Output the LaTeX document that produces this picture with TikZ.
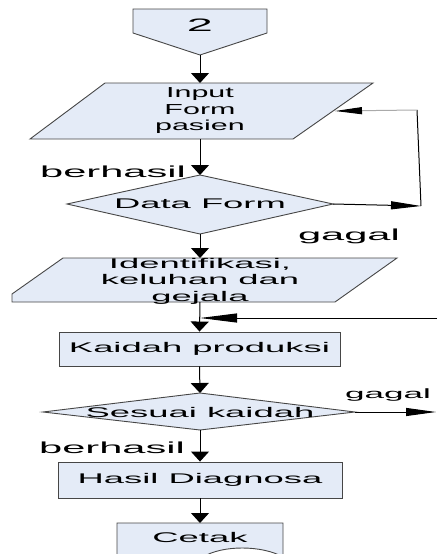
\documentclass[tikz,border=0pt]{standalone}
\usepackage{fontspec}
\newfontfamily\widesans[FakeStretch=2.6]{Liberation Sans}
\newfontfamily\midsans[FakeStretch=2.1]{Liberation Sans}
\usetikzlibrary{arrows.meta}
\definecolor{boxfill}{RGB}{228,235,247}
\definecolor{boxline}{RGB}{70,70,70}
\definecolor{grayline}{RGB}{170,170,170}
\tikzset{
  shapebox/.style={fill=boxfill, draw=boxline, line width=0.9pt},
  lbl/.style={font=\widesans\fontsize{14}{16.5}\selectfont, inner sep=0pt, align=center},
  biglbl/.style={font=\widesans\fontsize{16}{18}\selectfont, inner sep=0pt},
  downarr/.style={-{Triangle[width=18pt,length=10pt]}, line width=1pt},
  longarr/.style={-{Triangle[width=8pt,length=30pt]}, line width=1pt},
  grayarr/.style={-{Triangle[width=7pt,length=27pt,color=black]}, line width=1pt, draw=grayline},
  longerarr/.style={-{Triangle[width=9pt,length=37pt]}, line width=1pt},
}
\begin{document}
\begin{tikzpicture}[x=1pt,y=-1pt]
\useasboundingbox (0,0) rectangle (437,554);
\clip (0,0) rectangle (437,554);

% off-page connector
\draw[shapebox] (133,9) -- (267,9) -- (267,33) -- (200,55) -- (133,33) -- cycle;
\node[font=\widesans\fontsize{18}{20}\selectfont, inner sep=0pt] (n2) at (200,25) {2};
\coordinate (n2b) at (200,55);

% Input Form pasien
\draw[shapebox] (105,83) -- (373,83) -- (293,139) -- (30,139) -- cycle;
\node[font=\midsans\fontsize{14.5}{16.5}\selectfont, inner sep=0pt, align=center] (inp) at (200,111) {Input\\Form\\pasien};
\coordinate (inpT) at (200,83);
\coordinate (inpB) at (200,139);
\coordinate (inpR) at (335,111);

% Data Form
\draw[shapebox] (67,204) -- (200,175) -- (333,204) -- (200,234) -- cycle;
\node[lbl] (df) at (200,204) {Data Form};
\coordinate (dfT) at (200,175);
\coordinate (dfB) at (200,234);
\coordinate (dfR) at (333,204);
\coordinate (fb1) at (421,206);
\coordinate (fb2) at (417,110);

% Identifikasi
\draw[shapebox] (63,258) -- (397,258) -- (335,302) -- (12,302) -- (12,294) -- cycle;
\node[lbl] (idf) at (200,281) {Identifikasi,\\keluhan dan\\gejala};
\coordinate (idT) at (200,258);
\coordinate (idB) at (200,302);
\coordinate (fb3) at (437,318);
\coordinate (fb4) at (200,318);

% Kaidah produksi
\node[shapebox, lbl, minimum width=281pt, minimum height=34pt] (kp) at (199.5,349) {Kaidah produksi};

% Sesuai kaidah
\draw[shapebox] (43,412) -- (200,393) -- (355,412) -- (200,430) -- cycle;
\node[lbl] (sk) at (200,412) {Sesuai kaidah};
\coordinate (skT) at (200,393);
\coordinate (skB) at (200,430);
\coordinate (skR) at (355,412);
\coordinate (skOut) at (436,412);

% Hasil Diagnosa
\node[shapebox, lbl, minimum width=284pt, minimum height=36pt] (hd) at (200,480) {Hasil Diagnosa};

% Cetak (document)
\draw[shapebox] (117,523) -- (283,523) -- (283,557) .. controls (262,545) and (222,545) .. (203,557) -- (117,560) -- cycle;
\node[lbl] (ct) at (200,537) {Cetak};
\coordinate (ctT) at (200,523);

% connectors
\draw[downarr] (n2b) -- (inpT);
\draw[downarr] (inpB) -- (dfT);
\draw[downarr] (dfB) -- (idT);
\draw[longarr] (dfR) -- (fb1);
\draw[line width=1pt] (fb1) -- (fb2);
\draw[grayarr] (fb2) -- (inpR);
\draw[downarr] (idB) -- (kp.north);
\draw[longerarr] (fb3) -- (fb4);
\draw[downarr] (kp.south) -- (skT);
\draw[longarr] (skR) -- (skOut);
\draw[downarr] (skB) -- (hd.north);
\draw[downarr] (hd.south) -- (ctT);

% labels
\node[biglbl, anchor=base] (b1) at (113,177) {berhasil};
\node[biglbl, anchor=base] (g1) at (349,240) {gagal};
\node[font=\widesans\fontsize{13.5}{15}\selectfont, inner sep=0pt, anchor=base] (g2) at (388,398) {gagal};
\node[biglbl, anchor=base] (b2) at (112,453) {berhasil};
\end{tikzpicture}
\end{document}
